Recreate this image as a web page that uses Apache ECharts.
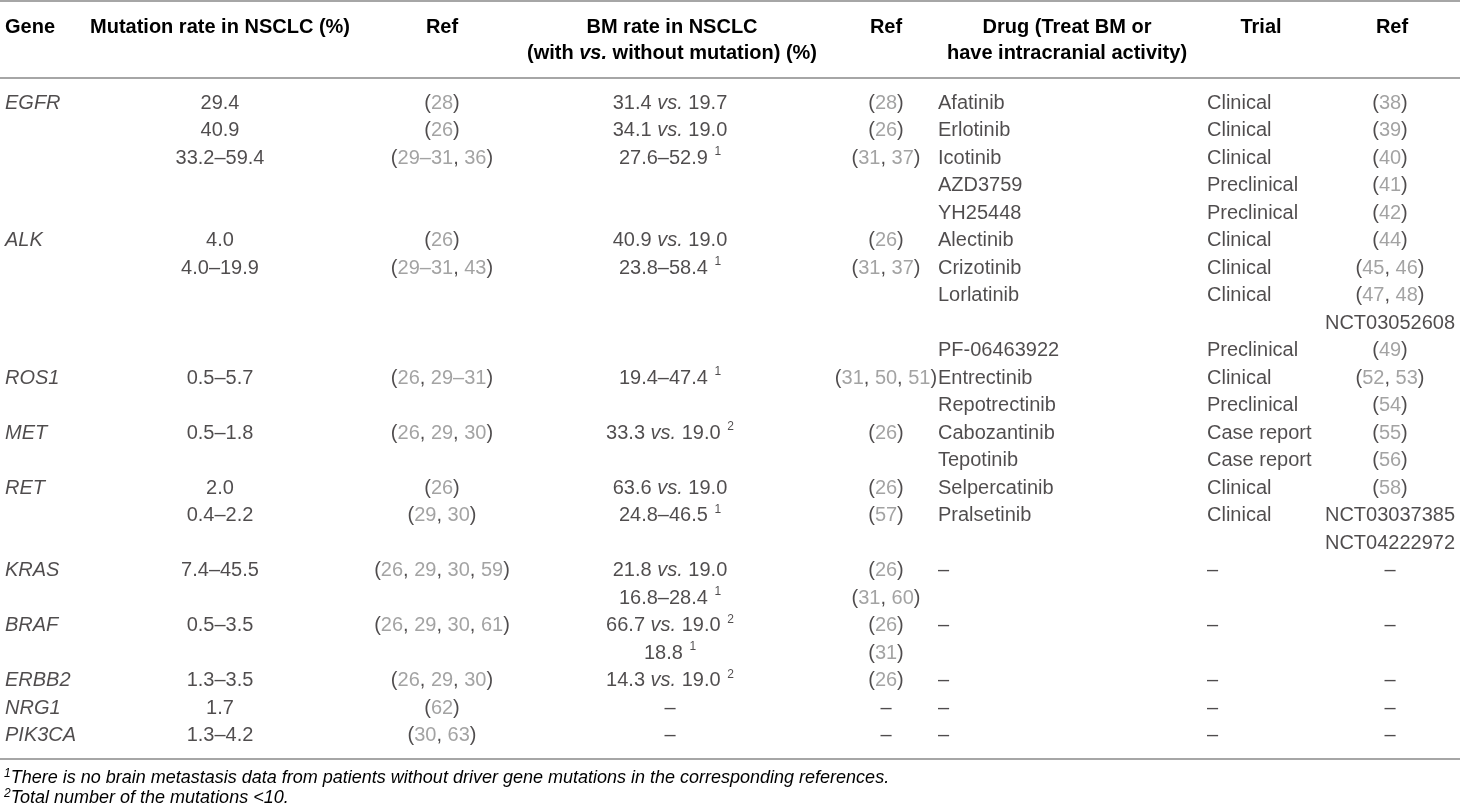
<!DOCTYPE html>
<html>
<head>
<meta charset="utf-8">
<title>Driver genes and brain metastasis in NSCLC</title>
<script src="https://cdn.jsdelivr.net/npm/echarts@6/dist/echarts.min.js"></script>
<style>
  html, body { margin: 0; padding: 0; background: #fff; }
  #main { width: 1460px; height: 811px; }
</style>
</head>
<body>
<div id="main"></div>
<script>
// one entry per table row, '' = empty cell
var genes = ['EGFR', '', '', '', '', 'ALK', '', '', '', '', 'ROS1', '', 'MET', '', 'RET', '', '',
  'KRAS', '', 'BRAF', '', 'ERBB2', 'NRG1', 'PIK3CA'];
var mutRates = ['29.4', '40.9', '33.2–59.4', '', '', '4.0', '4.0–19.9', '', '', '', '0.5–5.7', '',
  '0.5–1.8', '', '2.0', '0.4–2.2', '', '7.4–45.5', '', '0.5–3.5', '', '1.3–3.5', '1.7', '1.3–4.2'];
var mutRefs = ['(28)', '(26)', '(29–31, 36)', '', '', '(26)', '(29–31, 43)', '', '', '', '(26, 29–31)', '',
  '(26, 29, 30)', '', '(26)', '(29, 30)', '', '(26, 29, 30, 59)', '', '(26, 29, 30, 61)', '',
  '(26, 29, 30)', '(62)', '(30, 63)'];
var bmRates = ['31.4 vs. 19.7', '34.1 vs. 19.0', '27.6–52.9', '', '', '40.9 vs. 19.0', '23.8–58.4', '', '', '',
  '19.4–47.4', '', '33.3 vs. 19.0', '', '63.6 vs. 19.0', '24.8–46.5', '', '21.8 vs. 19.0', '16.8–28.4',
  '66.7 vs. 19.0', '18.8', '14.3 vs. 19.0', '–', '–'];
var bmNotes = ['', '', '1', '', '', '', '1', '', '', '', '1', '', '2', '', '', '1', '', '', '1',
  '2', '1', '2', '', ''];
var bmRefs = ['(28)', '(26)', '(31, 37)', '', '', '(26)', '(31, 37)', '', '', '', '(31, 50, 51)', '',
  '(26)', '', '(26)', '(57)', '', '(26)', '(31, 60)', '(26)', '(31)', '(26)', '–', '–'];
var drugs = ['Afatinib', 'Erlotinib', 'Icotinib', 'AZD3759', 'YH25448', 'Alectinib', 'Crizotinib',
  'Lorlatinib', '', 'PF-06463922', 'Entrectinib', 'Repotrectinib', 'Cabozantinib', 'Tepotinib',
  'Selpercatinib', 'Pralsetinib', '', '–', '', '–', '', '–', '–', '–'];
var trials = ['Clinical', 'Clinical', 'Clinical', 'Preclinical', 'Preclinical', 'Clinical', 'Clinical',
  'Clinical', '', 'Preclinical', 'Clinical', 'Preclinical', 'Case report', 'Case report', 'Clinical',
  'Clinical', '', '–', '', '–', '', '–', '–', '–'];
var drugRefs = ['(38)', '(39)', '(40)', '(41)', '(42)', '(44)', '(45, 46)', '(47, 48)', 'NCT03052608',
  '(49)', '(52, 53)', '(54)', '(55)', '(56)', '(58)', 'NCT03037385', 'NCT04222972', '–', '', '–', '',
  '–', '–', '–'];
var footnotes = [
  ['1', 'There is no brain metastasis data from patients without driver gene mutations in the corresponding references.'],
  ['2', 'Total number of the mutations <10.']
];

var FONT = '"Liberation Sans", Arial, Helvetica, sans-serif';
var DARK = '#231f20';
var GREY = '#8c8c8c';
var SIZE = 20;

var rich = {
  d: { color: DARK, fontSize: SIZE, fontFamily: FONT, lineHeight: 24 },
  g: { color: GREY, fontSize: SIZE, fontFamily: FONT, lineHeight: 24 },
  i: { color: DARK, fontSize: SIZE, fontFamily: FONT, fontStyle: 'italic', lineHeight: 24 },
  sup: { color: DARK, fontSize: 12, fontFamily: FONT, lineHeight: 24, verticalAlign: 'top', padding: [0, 0, 0, 1] }
};

function esc(s) {
  return s.replace(/[{}|]/g, '');
}

// refs: brackets and commas dark, the numbers grey
function refText(s) {
  if (s.indexOf('(') !== 0) return '{d|' + s + '}';
  var out = '';
  var buf = '';
  for (var k = 0; k < s.length; k++) {
    var c = s[k];
    if (c === '(' || c === ')' || c === ',' || c === ' ') {
      if (buf) { out += '{g|' + buf + '}'; buf = ''; }
      out += '{d|' + c + '}';
    } else {
      buf += c;
    }
  }
  if (buf) out += '{g|' + buf + '}';
  return out;
}

function bmText(s, note) {
  var out = s.split(' vs. ').map(function (p) { return '{d|' + p + '}'; }).join('{d| }{i|vs.}{d| }');
  if (note) out += '{d| }{sup|' + note + '}';
  return out;
}

var columns = [
  { values: genes, x: 5, align: 'left', fmt: function (s) { return '{i|' + s + '}'; } },
  { values: mutRates, x: 220, align: 'center', fmt: function (s) { return '{d|' + s + '}'; } },
  { values: mutRefs, x: 442, align: 'center', fmt: refText },
  { values: bmRates, x: 670, align: 'center', fmt: function (s, r) { return bmText(s, bmNotes[r]); } },
  { values: bmRefs, x: 886, align: 'center', fmt: refText },
  { values: drugs, x: 938, align: 'left', fmt: function (s) { return '{d|' + s + '}'; } },
  { values: trials, x: 1207, align: 'left', fmt: function (s) { return '{d|' + s + '}'; } },
  { values: drugRefs, x: 1390, align: 'center', fmt: refText }
];

var rowIds = genes.map(function (g, r) { return 'r' + r; });

var series = columns.map(function (col) {
  var data = [];
  col.values.forEach(function (v, r) {
    if (v === '') return;
    data.push({ value: [col.x, r], label: { formatter: col.fmt(esc(v), r) } });
  });
  return {
    type: 'scatter',
    symbolSize: 0,
    silent: true,
    data: data,
    label: {
      show: true,
      position: 'inside',
      align: col.align,
      verticalAlign: 'middle',
      rich: rich
    }
  };
});

var headers = [
  { x: 5, align: 'left', lines: ['Gene'] },
  { x: 220, align: 'center', lines: ['Mutation rate in NSCLC (%)'] },
  { x: 442, align: 'center', lines: ['Ref'] },
  { x: 672, align: 'center', lines: ['BM rate in NSCLC', '(with {bi|vs.} without mutation) (%)'] },
  { x: 886, align: 'center', lines: ['Ref'] },
  { x: 1067, align: 'center', lines: ['Drug (Treat BM or', 'have intracranial activity)'] },
  { x: 1261, align: 'center', lines: ['Trial'] },
  { x: 1392, align: 'center', lines: ['Ref'] }
];

var graphic = [];
[1, 78, 759].forEach(function (y) {
  graphic.push({
    type: 'line', silent: true,
    shape: { x1: 0, y1: y, x2: 1460, y2: y },
    style: { stroke: '#a6a6a6', lineWidth: 2 }
  });
});
headers.forEach(function (h) {
  graphic.push({
    type: 'text', silent: true, x: h.x, y: 14,
    style: {
      text: h.lines.map(function (l) {
        return l.split(/(\{bi\|vs\.\})/).map(function (p) {
          return p.indexOf('{bi|') === 0 ? p : (p ? '{b|' + p + '}' : '');
        }).join('');
      }).join('\n'),
      align: h.align,
      verticalAlign: 'top',
      rich: {
        b: { fontFamily: FONT, fontSize: SIZE, fontWeight: 'bold', color: DARK, lineHeight: 26 },
        bi: { fontFamily: FONT, fontSize: SIZE, fontWeight: 'bold', fontStyle: 'italic', color: DARK, lineHeight: 26 }
      }
    }
  });
});
footnotes.forEach(function (f, k) {
  graphic.push({
    type: 'text', silent: true, x: 4, y: 778 + k * 20,
    style: {
      text: '{s|' + f[0] + '}{t|' + f[1] + '}',
      verticalAlign: 'middle',
      rich: {
        s: { fontFamily: FONT, fontSize: 12, fontStyle: 'italic', color: DARK, lineHeight: 20, verticalAlign: 'top' },
        t: { fontFamily: FONT, fontSize: 18, fontStyle: 'italic', color: DARK, lineHeight: 20 }
      }
    }
  });
});

var chart = echarts.init(document.getElementById('main'), null, { renderer: 'canvas' });
chart.setOption({
  backgroundColor: '#ffffff',
  animation: false,
  grid: { left: 0, right: 0, top: 89.25, bottom: 61.75 },
  xAxis: { type: 'value', min: 0, max: 1460, show: false },
  yAxis: { type: 'category', data: rowIds, inverse: true, show: false },
  series: series,
  graphic: graphic
});
</script>
</body>
</html>
